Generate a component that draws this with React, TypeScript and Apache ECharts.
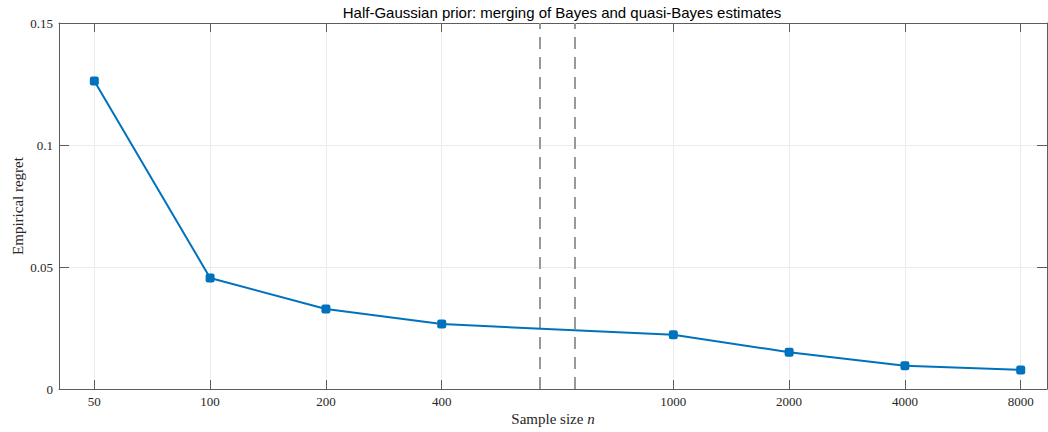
import React, { useEffect, useRef } from "react";
import * as echarts from "echarts";

// Data
const sampleSizes = ["50", "100", "200", "400", "1000", "2000", "4000", "8000"];
const axisPositions = [0, 1, 2, 3, 5, 6, 7, 8];
const regret = [0.1262, 0.0455, 0.0328, 0.0266, 0.0222, 0.0151, 0.0095, 0.0078];
const breakMarks = [3.846, 4.148];
const yTicks = { min: 0, max: 0.15, interval: 0.05 };
const titleText = "Half-Gaussian prior: merging of Bayes and quasi-Bayes estimates";

const AXIS_COLOR = "#5c5c5c";
const TEXT_COLOR = "#262626";
const GRID_COLOR = "#ebebeb";
const LINE_COLOR = "#0072BD";
const SERIF = "'Liberation Serif', 'DejaVu Serif', serif";

export default function App() {
  const ref = useRef<HTMLDivElement>(null);
  useEffect(() => {
    if (!ref.current) return;
    document.body.style.margin = "0";
    document.body.style.overflow = "hidden";
    document.documentElement.style.overflow = "hidden";
    const chart = echarts.init(ref.current, undefined, { renderer: "svg", width: 1048, height: 432 });
    const labelFor = (v: number) => {
      const i = axisPositions.indexOf(Math.round(v));
      return i >= 0 && Math.abs(v - axisPositions[i]) < 1e-6 ? sampleSizes[i] : "";
    };
    const xBase = {
      type: "value" as const,
      min: -0.305,
      max: 8.227,
    };
    chart.setOption({
      animation: false,
      backgroundColor: "#ffffff",
      title: {
        text: titleText,
        left: 557,
        textAlign: "center",
        top: 0,
        textStyle: {
          fontFamily: "'Liberation Sans', Arial, sans-serif",
          fontSize: 15,
          fontWeight: "normal",
          color: "#000",
        },
      },
      grid: {
        left: 59,
        right: 1,
        top: 23,
        bottom: 43,
        containLabel: false,
        outerBoundsMode: "none",
      },
      xAxis: [
        {
          ...xBase,
          position: "bottom",
          name: "{a|Sample size }{b|n}",
          nameLocation: "middle",
          nameGap: 22,
          nameMoveOverlap: false,
          nameTextStyle: {
            rich: {
              a: { fontFamily: SERIF, fontSize: 15, color: TEXT_COLOR },
              b: { fontFamily: SERIF, fontSize: 15, color: TEXT_COLOR, fontStyle: "italic" },
            },
          },
          axisLine: { show: true, onZero: false, lineStyle: { color: AXIS_COLOR, width: 1 } },
          axisTick: {
            show: true,
            inside: true,
            length: 9,
            customValues: axisPositions,
            lineStyle: { color: AXIS_COLOR },
          },
          axisLabel: {
            show: true,
            customValues: axisPositions,
            formatter: (v: number) => labelFor(v),
            fontFamily: SERIF,
            fontSize: 13,
            color: TEXT_COLOR,
            margin: 6,
          },
          splitLine: { show: true, lineStyle: { color: GRID_COLOR, width: 1 } },
        },
        {
          ...xBase,
          position: "top",
          axisLine: { show: true, onZero: false, lineStyle: { color: AXIS_COLOR, width: 1 } },
          axisTick: {
            show: true,
            inside: true,
            length: 9,
            customValues: axisPositions,
            lineStyle: { color: AXIS_COLOR },
          },
          axisLabel: { show: false },
          splitLine: { show: false },
        },
      ],
      yAxis: [
        {
          type: "value",
          position: "left",
          ...yTicks,
          name: "Empirical regret",
          nameLocation: "middle",
          nameGap: 34,
          nameMoveOverlap: false,
          nameTextStyle: { fontFamily: SERIF, fontSize: 15, color: TEXT_COLOR },
          axisLine: { show: true, onZero: false, lineStyle: { color: AXIS_COLOR, width: 1 } },
          axisTick: { show: true, inside: true, length: 10, lineStyle: { color: AXIS_COLOR } },
          axisLabel: {
            fontFamily: SERIF,
            fontSize: 13,
            color: TEXT_COLOR,
            margin: 6,
          },
          splitLine: { show: true, lineStyle: { color: GRID_COLOR, width: 1 } },
        },
        {
          type: "value",
          position: "right",
          ...yTicks,
          axisLine: { show: true, onZero: false, lineStyle: { color: AXIS_COLOR, width: 1 } },
          axisTick: { show: true, inside: true, length: 10, lineStyle: { color: AXIS_COLOR } },
          axisLabel: { show: false },
          splitLine: { show: false },
        },
      ],
      series: [
        {
          type: "line",
          xAxisIndex: 0,
          yAxisIndex: 0,
          data: axisPositions.map((x, i) => [x, regret[i]]),
          symbol: "roundRect",
          symbolSize: 9,
          showSymbol: true,
          lineStyle: { color: LINE_COLOR, width: 2 },
          itemStyle: { color: LINE_COLOR },
          z: 3,
          markLine: {
            silent: true,
            symbol: ["none", "none"],
            label: { show: false },
            lineStyle: { color: "#999999", type: [12, 8], width: 2 },
            data: breakMarks.map((x) => ({ xAxis: x })),
            z: 2,
          },
        },
      ],
    });
    return () => chart.dispose();
  }, []);
  return (
    <div
      ref={ref}
      style={{ position: "fixed", left: 0, top: 0, width: 1048, height: 432 }}
    />
  );
}
